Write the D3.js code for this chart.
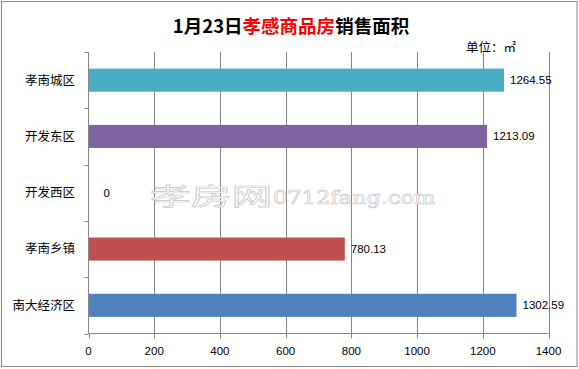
<!DOCTYPE html>
<html><head><meta charset="utf-8">
<script src="https://cdn.jsdelivr.net/npm/d3@7"></script>
<style>body{margin:0;background:#fff}svg{display:block}</style>
</head><body>
<script>
const categories = ["孝南城区","开发东区","开发西区","孝南乡镇","南大经济区"];
const values = [1264.55, 1213.09, 0, 780.13, 1302.59];
const valueLabels = ["1264.55","1213.09","0","780.13","1302.59"];
const colors = ["#4BACC6","#8064A2","#9BBB59","#C0504D","#4F81BD"];
const xTicks = [0,200,400,600,800,1000,1200,1400];

const W=579,H=369;
const svg=d3.select("body").append("svg").attr("width",W).attr("height",H);
svg.append("rect").attr("x",1.5).attr("y",1.5).attr("width",575.5).attr("height",365)
  .attr("fill","#fff").attr("stroke","#868686").attr("stroke-width",1);

const x=d3.scaleLinear().domain([0,1400]).range([88.5,548.5]);
const y=d3.scaleBand().domain(categories).range([52,333.5]).paddingInner(0.59).paddingOuter(0.295);

// gridlines
svg.append("g").selectAll("line").data(xTicks.slice(1)).join("line")
  .attr("x1",d=>Math.round(x(d))+0.5).attr("x2",d=>Math.round(x(d))+0.5)
  .attr("y1",52).attr("y2",338).attr("stroke","#868686");

// bars
svg.append("g").selectAll("rect").data(values).join("rect")
  .attr("x",x(0)).attr("y",(d,i)=>y(categories[i]))
  .attr("width",d=>x(d)-x(0)).attr("height",y.bandwidth())
  .attr("fill",(d,i)=>colors[i]);

// left axis
const gl=svg.append("g").attr("transform","translate(88.5,0)");
gl.append("line").attr("y1",52).attr("y2",333.5).attr("stroke","#868686");
const catTicks=[0,1,2,3,4,5].map(i=>52+i*(333.5-52)/5);
gl.selectAll("line.t").data(catTicks).join("line").attr("class","t")
  .attr("x1",-4).attr("x2",0).attr("y1",d=>Math.round(d)+0.5).attr("y2",d=>Math.round(d)+0.5).attr("stroke","#868686");
svg.append("g").selectAll("text").data(categories).join("text")
  .attr("x",75).attr("y",d=>y(d)+y.bandwidth()/2).attr("dy","0.35em")
  .attr("text-anchor","end").attr("font-family","Noto Sans CJK SC").attr("font-size",12.5).attr("fill","#000")
  .text(d=>d);

// bottom axis
const gb=svg.append("g").attr("transform","translate(0,333.5)");
gb.append("line").attr("x1",x(0)).attr("x2",x(1400)).attr("stroke","#868686");
gb.selectAll("line.t").data(xTicks).join("line").attr("class","t")
  .attr("x1",d=>Math.round(x(d))+0.5).attr("x2",d=>Math.round(x(d))+0.5).attr("y1",0).attr("y2",5).attr("stroke","#868686");
gb.selectAll("text").data(xTicks).join("text")
  .attr("x",d=>x(d)).attr("y",17).attr("dy","0.35em").attr("text-anchor","middle")
  .attr("font-family","Liberation Sans, Arial").attr("font-size",11.5).attr("fill","#000").text(d=>d);

// value labels
svg.append("g").selectAll("text").data(values).join("text")
  .attr("x",(d,i)=>x(d)+(d===0?15:6)).attr("y",(d,i)=>y(categories[i])+y.bandwidth()/2).attr("dy","0.35em")
  .attr("font-family","Liberation Sans, Arial").attr("font-size",11.5).attr("fill","#000")
  .text((d,i)=>valueLabels[i]);

// watermark
const wm=svg.append("g");
wm.append("text").attr("transform","translate(150,205) scale(1.7,1)")
  .attr("font-family","Noto Sans CJK SC").attr("font-size",24).attr("fill","#fff").attr("stroke","#c4c4c4").attr("stroke-width",0.6)
  .text("孝房网");
wm.append("text").attr("transform","translate(273,204) scale(1.25,1)")
  .attr("font-family","DejaVu Serif").attr("font-size",18).attr("fill","#fff").attr("stroke","#c4c4c4").attr("stroke-width",0.6)
  .text("0712fang.com");

// title
const t=svg.append("text").attr("x",291).attr("y",27).attr("dy","0.35em").attr("text-anchor","middle")
  .attr("font-family","Noto Sans CJK SC").attr("font-weight","bold").attr("font-size",18.5);
t.append("tspan").attr("fill","#000").text("1月23日");
t.append("tspan").attr("fill","#FF0000").text("孝感商品房");
t.append("tspan").attr("fill","#000").text("销售面积");

svg.append("text").attr("x",466).attr("y",48).attr("dy","0.35em")
  .attr("font-family","Noto Sans CJK SC").attr("font-size",12.5).attr("fill","#000").text("单位：㎡");
</script>
</body></html>
